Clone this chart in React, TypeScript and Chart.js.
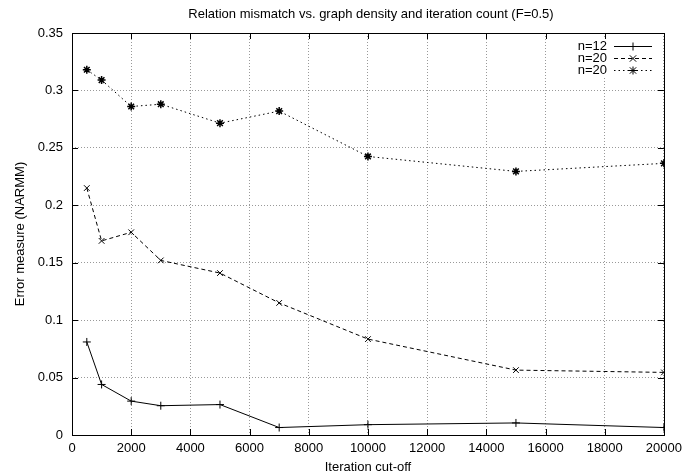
import React, { useEffect, useRef } from "react";
import { Chart, registerables } from "chart.js";

Chart.register(...registerables);

const iterations = [500, 1000, 2000, 3000, 5000, 7000, 10000, 15000, 20000];
const seriesLabels = ["n=12", "n=20", "n=20"];
const n12Values = [0.081, 0.044, 0.0295, 0.0255, 0.0265, 0.0065, 0.009, 0.0105, 0.0065];
const n20DashedValues = [0.215, 0.169, 0.1765, 0.152, 0.141, 0.115, 0.0835, 0.0565, 0.0545];
const n20DottedValues = [0.318, 0.309, 0.286, 0.288, 0.2715, 0.282, 0.2425, 0.2295, 0.2365];
const titleText = "Relation mismatch vs. graph density and iteration count (F=0.5)";
const xTitle = "Iteration cut-off";
const yTitle = "Error measure (NARMM)";

const FONT = "'Liberation Sans', Arial, sans-serif";

const styles = [
  { dash: [] as number[], point: "cross" },
  { dash: [4, 3], point: "crossRot" },
  { dash: [1.5, 3], point: "star" },
];

const boxPlugin = {
  id: "gnuBox",
  afterDraw(chart: any) {
    const { ctx, chartArea: a, scales } = chart;
    ctx.save();
    ctx.strokeStyle = "#000";
    ctx.lineWidth = 1;
    ctx.setLineDash([]);
    const tl = 6;
    scales.x.ticks.forEach((t: any) => {
      const x = Math.round(scales.x.getPixelForValue(t.value)) + 0.5;
      ctx.beginPath();
      ctx.moveTo(x, a.bottom);
      ctx.lineTo(x, a.bottom - tl);
      ctx.moveTo(x, a.top);
      ctx.lineTo(x, a.top + tl);
      ctx.stroke();
    });
    scales.y.ticks.forEach((t: any) => {
      const y = Math.round(scales.y.getPixelForValue(t.value)) + 0.5;
      ctx.beginPath();
      ctx.moveTo(a.left, y);
      ctx.lineTo(a.left + tl, y);
      ctx.moveTo(a.right, y);
      ctx.lineTo(a.right - tl, y);
      ctx.stroke();
    });
    ctx.strokeRect(Math.round(a.left) + 0.5, Math.round(a.top) + 0.5, Math.round(a.right - a.left), Math.round(a.bottom - a.top));

    // title
    ctx.fillStyle = "#000";
    ctx.font = `13px ${FONT}`;
    ctx.textAlign = "center";
    ctx.textBaseline = "middle";
    ctx.fillText(titleText, 371, 14);

    // legend
    const textRight = 607;
    const lx0 = 614;
    const lx1 = 652;
    const rows = [46, 58, 70];
    ctx.fillStyle = "#fff";
    ctx.fillRect(574, 39, 84, 38);
    chart.data.datasets.forEach((ds: any, i: number) => {
      const y = rows[i] + 0.5;
      ctx.fillStyle = "#000";
      ctx.font = `13px ${FONT}`;
      ctx.textAlign = "right";
      ctx.textBaseline = "middle";
      ctx.fillText(ds.label, textRight, rows[i]);
      ctx.strokeStyle = "#000";
      ctx.lineWidth = 1;
      ctx.setLineDash(styles[i].dash);
      ctx.beginPath();
      ctx.moveTo(lx0, y);
      ctx.lineTo(lx1, y);
      ctx.stroke();
      ctx.setLineDash([]);
      const cx = (lx0 + lx1) / 2;
      ctx.beginPath();
      const r = 4;
      if (styles[i].point === "cross" || styles[i].point === "star") {
        ctx.moveTo(cx - r, y);
        ctx.lineTo(cx + r, y);
        ctx.moveTo(cx, y - r);
        ctx.lineTo(cx, y + r);
      }
      if (styles[i].point === "crossRot" || styles[i].point === "star") {
        const d = r * 0.8;
        ctx.moveTo(cx - d, y - d);
        ctx.lineTo(cx + d, y + d);
        ctx.moveTo(cx - d, y + d);
        ctx.lineTo(cx + d, y - d);
      }
      ctx.stroke();
    });
    ctx.restore();
  },
};

export default function App() {
  const ref = useRef<HTMLCanvasElement>(null);
  useEffect(() => {
    if (!ref.current) return;
    const mk = (vals: number[]) => iterations.map((x, i) => ({ x, y: vals[i] }));
    const all = [n12Values, n20DashedValues, n20DottedValues];
    const chart = new Chart(ref.current, {
      type: "line",
      data: {
        datasets: all.map((vals, i) => ({
          label: seriesLabels[i],
          data: mk(vals),
          borderColor: "#000",
          backgroundColor: "#000",
          borderWidth: 1,
          borderDash: styles[i].dash,
          pointStyle: styles[i].point as any,
          pointRadius: 4,
          pointBorderWidth: i === 2 ? 1.5 : 1,
          pointBorderColor: "#000",
          fill: false,
          tension: 0,
        })),
      },
      options: {
        animation: false,
        responsive: false,
        layout: { padding: { top: 33, right: 23, left: 0, bottom: 0 } },
        plugins: { legend: { display: false }, title: { display: false }, tooltip: { enabled: false } },
        scales: {
          x: {
            type: "linear",
            min: 0,
            max: 20000,
            afterFit: (s: any) => { s.height = 41; },
            ticks: {
              stepSize: 2000,
              color: "#000",
              font: { family: FONT, size: 13 },
              padding: 6,
              maxRotation: 0,
              callback: (v: any) => String(v),
            },
            grid: { color: "#999", drawTicks: false, lineWidth: 1 },
            border: { display: false, dash: [1, 2] },
            title: { display: true, text: xTitle, color: "#000", font: { family: FONT, size: 13 }, padding: { top: 0, bottom: 1 } },
          },
          y: {
            type: "linear",
            min: 0,
            max: 0.35,
            afterFit: (s: any) => { s.width = 72; },
            ticks: {
              stepSize: 0.05,
              color: "#000",
              font: { family: FONT, size: 13 },
              padding: 9,
              callback: (v: any) => String(Math.round(v * 100) / 100),
            },
            grid: { color: "#999", drawTicks: false, lineWidth: 1 },
            border: { display: false, dash: [1, 2] },
            title: { display: true, text: yTitle, color: "#000", font: { family: FONT, size: 13 }, padding: { top: 13, bottom: 0 } },
          },
        },
      },
      plugins: [boxPlugin],
    });
    return () => chart.destroy();
  }, []);
  return (
    <div style={{ position: "absolute", left: 0, top: 0, width: 688, height: 476, background: "#fff" }}>
      <canvas ref={ref} width={688} height={476} />
    </div>
  );
}
